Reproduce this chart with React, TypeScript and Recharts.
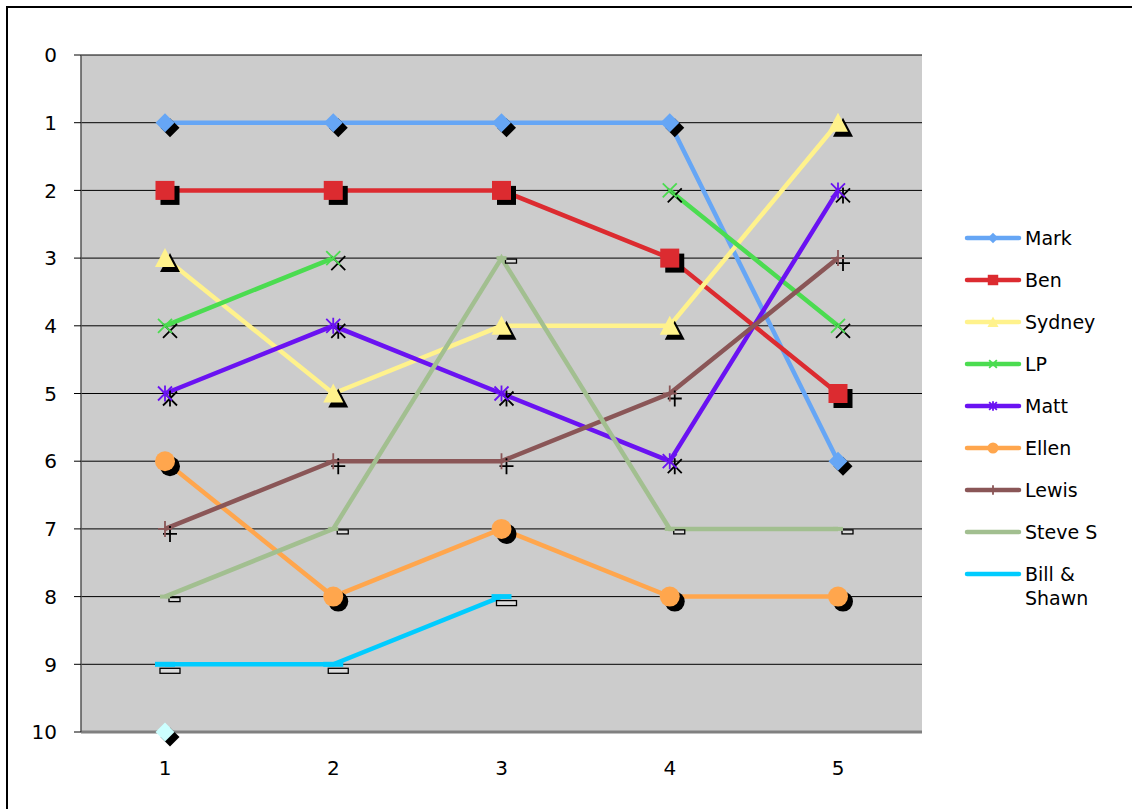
import React from "react";
import { LineChart, Line, XAxis, YAxis, CartesianGrid, Legend, ReferenceLine } from "recharts";

const FONT = "'DejaVu Sans', Verdana, sans-serif";

const rounds = ["1", "2", "3", "4", "5"];
const yTicks = [0, 1, 2, 3, 4, 5, 6, 7, 8, 9, 10];
const boundaryTicks = [1, 2, 3, 4];

const mark = [1, 1, 1, 1, 6];
const ben = [2, 2, 2, 3, 5];
const sydney = [3, 5, 4, 4, 1];
const lp = [4, 3, null, 2, 4];
const matt = [5, 4, 5, 6, 2];
const ellen = [6, 8, 7, 8, 8];
const lewis = [7, 6, 6, 5, 3];
const steveS = [8, 7, 3, 7, 7];
const billShawn = [9, 9, 8, null, null];
const series10 = [10, null, null, null, null];

const series = [
  { key: "mark", name: "Mark", color: "#66a6f5", marker: "diamond", values: mark, legend: true },
  { key: "ben", name: "Ben", color: "#dc2b30", marker: "square", values: ben, legend: true },
  { key: "sydney", name: "Sydney", color: "#fff28c", marker: "triangle", values: sydney, legend: true },
  { key: "lp", name: "LP", color: "#4bdc50", marker: "x", values: lp, legend: true },
  { key: "matt", name: "Matt", color: "#6a12f2", marker: "star", values: matt, legend: true },
  { key: "ellen", name: "Ellen", color: "#ffa64d", marker: "circle", values: ellen, legend: true },
  { key: "lewis", name: "Lewis", color: "#8a5657", marker: "plus", values: lewis, legend: true },
  { key: "steve", name: "Steve S", color: "#a2bf90", marker: "shortDash", values: steveS, legend: true },
  { key: "bill", name: "Bill & Shawn", color: "#00ccff", marker: "longDash", values: billShawn, legend: true },
  { key: "s10", name: "Series10", color: "#ccffff", marker: "diamond", values: series10, legend: false },
];

const rows = rounds.map((r, i) => {
  const row: any = { round: r };
  series.forEach((s) => { row[s.key] = s.values[i]; });
  return row;
});

const YTick = ({ x, y, payload }: any) => (
  <text x={x} y={y} dy="0.36em" textAnchor="end" fontSize={20} fontFamily={FONT} fill="#000">{payload.value}</text>
);
const XTick = ({ x, y, payload }: any) => (
  <text x={x} y={y} dy="0.72em" textAnchor="middle" fontSize={20} fontFamily={FONT} fill="#000">{payload.value}</text>
);

function shape(kind: string, x: number, y: number, c: string, k = 1) {
  const a = 7 * k;
  switch (kind) {
    case "diamond": {
      const d = 9.5 * k;
      return <polygon points={`${x},${y - d} ${x + d},${y} ${x},${y + d} ${x - d},${y}`} fill={c} />;
    }
    case "square": {
      const d = 9.5 * k;
      return <rect x={x - d} y={y - d} width={2 * d} height={2 * d} fill={c} />;
    }
    case "triangle":
      return <polygon points={`${x},${y - 10 * k} ${x + 10 * k},${y + 9 * k} ${x - 10 * k},${y + 9 * k}`} fill={c} />;
    case "circle":
      return <circle cx={x} cy={y} r={10 * k} fill={c} />;
    case "x":
      return <path d={`M${x - a},${y - a}L${x + a},${y + a}M${x + a},${y - a}L${x - a},${y + a}`} stroke={c} strokeWidth={1.8} fill="none" />;
    case "star":
      return <path d={`M${x - a},${y - a}L${x + a},${y + a}M${x + a},${y - a}L${x - a},${y + a}M${x},${y - a - 1}L${x},${y + a + 1}`} stroke={c} strokeWidth={1.8} fill="none" />;
    case "plus":
      return <path d={`M${x - a},${y}L${x + a},${y}M${x},${y - a - 1}L${x},${y + a + 1}`} stroke={c} strokeWidth={1.8} fill="none" />;
    default:
      return null;
  }
}

function makeDot(kind: string, color: string) {
  return (p: any) => {
    const { cx, cy, index } = p;
    if (cx == null || cy == null || isNaN(cy)) return <g key={`d${index}`} />;
    if (kind === "shortDash") {
      return (
        <g key={`d${index}`}>
          <rect x={cx + 4} y={cy + 1} width={11} height={4} fill="#dcdcdc" stroke="#000" strokeWidth={1.3} />
          <rect x={cx - 5} y={cy - 2} width={10} height={4} fill={color} />
        </g>
      );
    }
    if (kind === "longDash") {
      return (
        <g key={`d${index}`}>
          <rect x={cx - 5} y={cy + 4} width={20} height={5} fill="#dcdcdc" stroke="#000" strokeWidth={1.3} />
          <rect x={cx - 10} y={cy - 2.5} width={20} height={5} fill={color} />
        </g>
      );
    }
    return (
      <g key={`d${index}`}>
        {shape(kind, cx + 5, cy + 5, "#000")}
        {shape(kind, cx, cy, color)}
      </g>
    );
  };
}

function LegendBox() {
  return (
    <div style={{ fontFamily: FONT, fontSize: 19, color: "#000" }}>
      {series.filter((s) => s.legend).map((s) => (
        <div key={s.key} style={{ display: "flex", alignItems: "flex-start", height: 42 }}>
          <svg width={62} height={24} style={{ flex: "none" }}>
            <line x1={4} y1={12} x2={56} y2={12} stroke={s.color} strokeWidth={4.5} strokeLinecap="round" />
            {shape(s.marker, 30, 12, s.color, 0.55)}
          </svg>
          <span style={{ lineHeight: "24px", maxWidth: 90 }}>{s.name}</span>
        </div>
      ))}
    </div>
  );
}

export default function App() {
  return (
    <div style={{ position: "absolute", left: 0, top: 0, width: 1132, height: 809, background: "#fff" }}>
      <div style={{ position: "absolute", left: 6, top: 6, width: 1126, height: 803, borderTop: "2px solid #000", borderLeft: "2px solid #000", boxSizing: "border-box" }} />
      <div style={{ position: "absolute", left: 0, top: 0 }}>
        <LineChart width={1132} height={809} data={rows} margin={{ top: 55, right: 210, bottom: 0, left: 0 }}>
          <CartesianGrid fill="#cccccc" stroke="#000" strokeOpacity={1} vertical={false} />
          <XAxis dataKey="round" padding={{ left: 84, right: 84 }} height={77} tickLine={false} axisLine={false}
            tickSize={0} tickMargin={29} tick={<XTick />} />
          <XAxis xAxisId="top" orientation="top" type="number" domain={[0, 5]} ticks={boundaryTicks} height={0}
            mirror tick={false} tickSize={6} tickLine={{ stroke: "#222", strokeWidth: 2 }}
            axisLine={{ stroke: "#333", strokeWidth: 2.5 }} allowDataOverflow />
          <YAxis type="number" domain={[0, 10]} reversed ticks={yTicks} interval={0} width={81} axisLine={false}
            tickLine={{ stroke: "#000" }} tickSize={7} tickMargin={17} tick={<YTick />} />
          <ReferenceLine y={10} stroke="#808080" strokeWidth={3} />
          <ReferenceLine x={5} xAxisId="top" stroke="#8a8a8a" strokeWidth={3} />
          <ReferenceLine x={0} xAxisId="top" stroke="#555" strokeWidth={1.5} />
          <Legend layout="horizontal" verticalAlign="middle" align="center" content={<LegendBox />}
            wrapperStyle={{ left: 963, top: 226, width: 169 }} />
          {series.map((s) => (
            <Line key={s.key} dataKey={s.key} name={s.name} type="linear" stroke={s.color} strokeWidth={4.5}
              dot={makeDot(s.marker, s.color)} activeDot={false} legendType={s.legend ? "line" : "none"}
              isAnimationActive={false} />
          ))}
        </LineChart>
      </div>
    </div>
  );
}
